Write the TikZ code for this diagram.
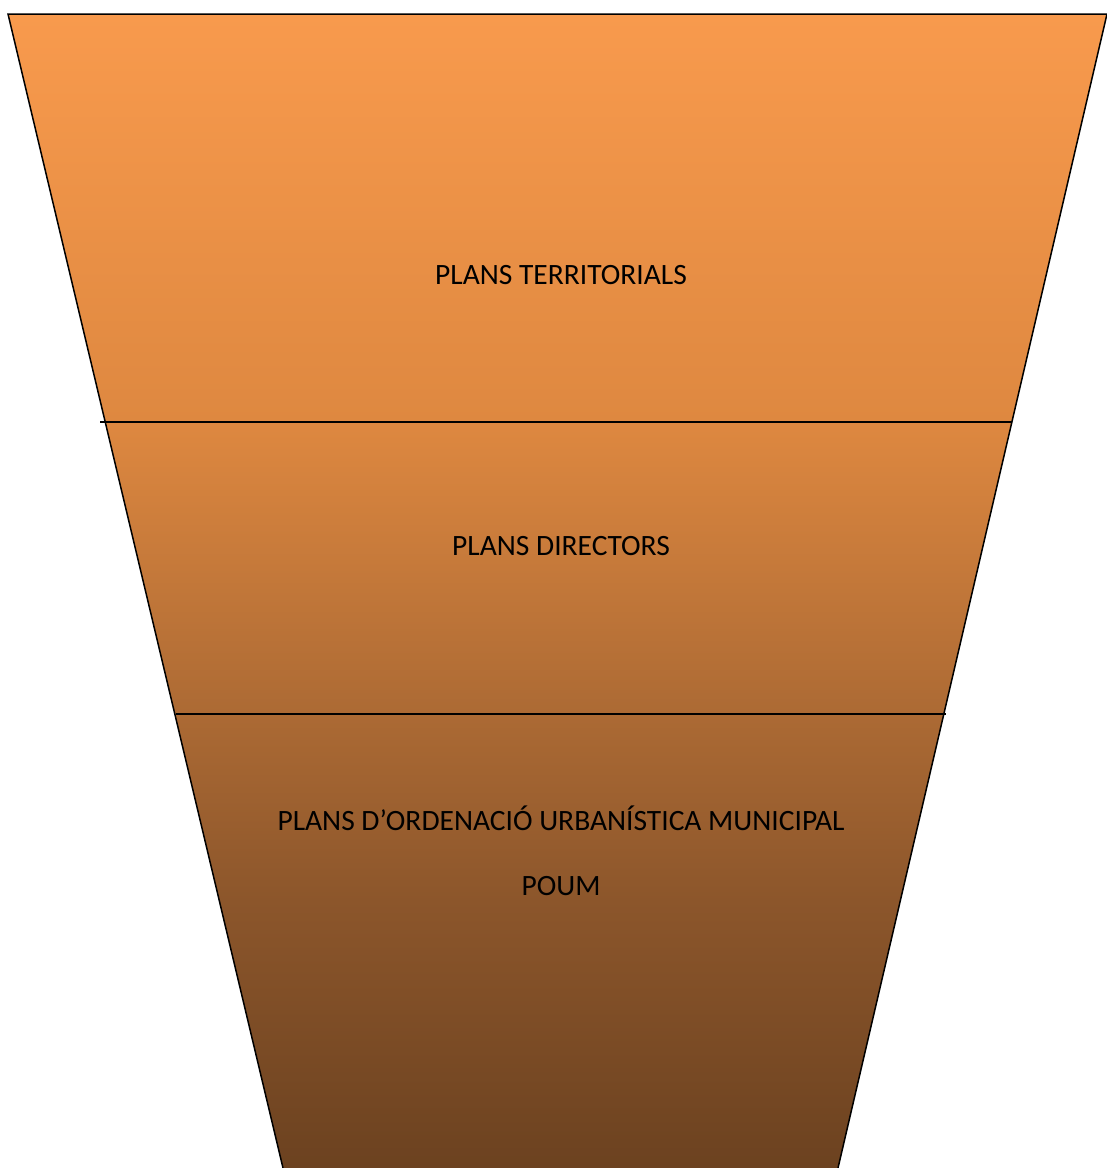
\documentclass[tikz,border=0pt]{standalone}
\usepackage{fontspec}
\setmainfont{Carlito}
\definecolor{ftop}{RGB}{248,154,77}
\definecolor{fa}{RGB}{222,136,64}
\definecolor{fb}{RGB}{172,106,52}
\definecolor{fc}{RGB}{140,86,43}
\definecolor{fbot}{RGB}{108,66,32}
\pgfdeclareverticalshading{funnelshade}{100bp}{color(0bp)=(fbot); color(25bp)=(fbot); color(36.6bp)=(fc); color(44.7bp)=(fb); color(57.3bp)=(fa); color(75bp)=(ftop); color(100bp)=(ftop)}
\begin{document}
\begin{tikzpicture}[x=1pt,y=-1pt,
  label/.style={font=\fontsize{29.5}{35}\selectfont, text=black, inner sep=0pt},
  sep/.style={line width=1.5pt, black}]
\useasboundingbox (0,0) rectangle (1107,1168);
\coordinate (tl) at (8,14);
\coordinate (tr) at (1107,14);
\coordinate (br) at (838,1168);
\coordinate (bl) at (283,1168);
\shade[shading=funnelshade] (tl) -- (tr) -- (br) -- (bl) -- cycle;
\draw[sep] (bl) -- (tl) -- (tr) -- (br);
\coordinate (a1) at (100,422);
\coordinate (a2) at (1012,422);
\coordinate (b1) at (176,714);
\coordinate (b2) at (946,714);
\draw[sep] (a1) -- (a2);
\draw[sep] (b1) -- (b2);
\node[label] (t1) at (561,275) {PLANS TERRITORIALS};
\node[label] (t2) at (561,546) {PLANS DIRECTORS};
\node[label] (t3) at (561,818) {PLANS D’ORDENACIÓ URBANÍSTICA MUNICIPAL};
\node[label] (t4) at (561,886) {POUM};
\end{tikzpicture}
\end{document}
